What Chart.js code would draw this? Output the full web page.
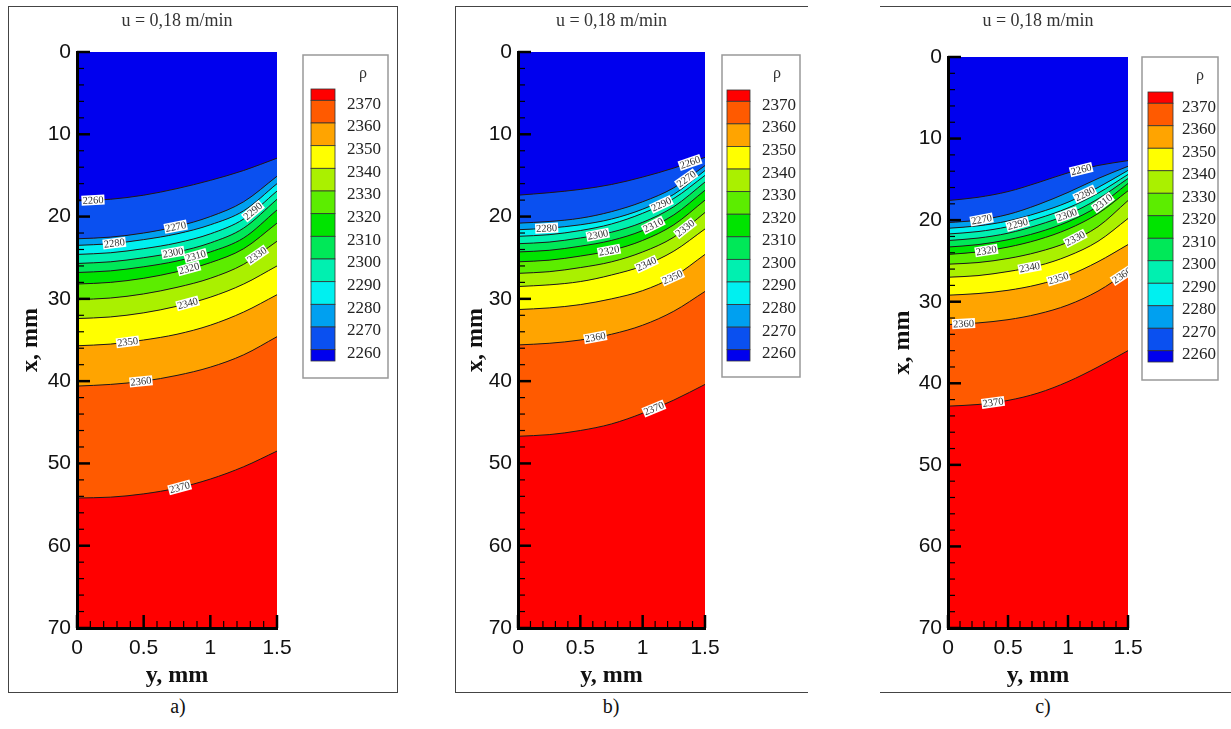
<!DOCTYPE html>
<html>
<head>
<meta charset="utf-8">
<script src="https://cdn.jsdelivr.net/npm/chart.js@4.4.1/dist/chart.umd.min.js"></script>
<style>
    body { margin: 0; background: #fff; width: 1231px; height: 729px; position: relative; overflow: hidden; font-family: "Liberation Serif", serif; }
    .frame { position: absolute; box-sizing: border-box; }
    #frameA { left: 8px; top: 6px; width: 390px; height: 687px; border: 1px solid #444; }
    #frameB { left: 455px; top: 6px; width: 353px; height: 687px; border: 1px solid #444; border-right: none; }
    #frameC { left: 880px; top: 6px; width: 351px; height: 687px; border-top: 1px solid #444; border-bottom: 1px solid #444; }
    canvas { position: absolute; }
    .cap { position: absolute; top: 695px; font-size: 20px; color: #111; transform: translateX(-50%); }
</style>
</head>
<body>
<div class="frame" id="frameA"></div>
<div class="frame" id="frameB"></div>
<div class="frame" id="frameC"></div>
<canvas id="chartA" width="388" height="686" style="left:9px;top:6px"></canvas>
<canvas id="chartB" width="352" height="686" style="left:456px;top:6px"></canvas>
<canvas id="chartC" width="350" height="686" style="left:881px;top:6px"></canvas>
<div class="cap" style="left:178px">a)</div>
<div class="cap" style="left:611px">b)</div>
<div class="cap" style="left:1043px">c)</div>

<script>
// positions across the layer (y, mm) where the contour depths were read
const yPos = [0, 0.25, 0.5, 0.75, 1, 1.25, 1.5];
const widthTicks = [0, 0.5, 1, 1.5];
const depthTicks = [0, 10, 20, 30, 40, 50, 60, 70];

// contour levels of density rho
const levels = [2260, 2270, 2280, 2290, 2300, 2310, 2320, 2330, 2340, 2350, 2360, 2370];
// colour of the band lying just above each level line (shallower side)
const bandColors = ['#0000ee', '#0a50f0', '#00a0f0', '#00f0f0', '#00f0b0', '#00e858',
                    '#00e400', '#5ced00', '#aaf000', '#ffff00', '#ffa400', '#ff5a00'];
const deepColor = '#ff0000';

// depth x (mm) of each contour at yPos, one row per level - case a)
const depthA = [
    [18.1, 17.9, 17.4, 16.6, 15.6, 14.4, 12.9],
    [22.7, 22.5, 22.0, 21.2, 20.0, 18.2, 15.1],
    [23.5, 23.3, 22.8, 22.1, 21.0, 19.3, 16.0],
    [24.6, 24.4, 23.9, 23.2, 22.1, 20.3, 16.9],
    [25.7, 25.5, 25.0, 24.3, 23.2, 21.4, 17.9],
    [26.8, 26.6, 26.1, 25.4, 24.3, 22.6, 19.2],
    [28.2, 28.0, 27.5, 26.7, 25.6, 23.9, 20.8],
    [30.1, 29.9, 29.4, 28.6, 27.5, 25.8, 23.0],
    [32.4, 32.2, 31.7, 30.9, 29.8, 28.2, 26.0],
    [35.7, 35.5, 35.0, 34.3, 33.2, 31.6, 29.5],
    [40.6, 40.4, 40.0, 39.3, 38.3, 36.8, 34.6],
    [54.2, 54.1, 53.7, 53.0, 51.9, 50.4, 48.5]
];
// case b)
const depthB = [
    [17.4, 17.1, 16.7, 16.1, 15.2, 14.1, 12.8],
    [20.8, 20.6, 20.2, 19.4, 18.2, 16.5, 13.8],
    [21.6, 21.4, 21.0, 20.3, 19.1, 17.3, 14.4],
    [22.4, 22.2, 21.7, 20.9, 19.6, 17.8, 15.0],
    [23.3, 23.1, 22.6, 21.9, 20.7, 18.8, 15.8],
    [24.3, 24.1, 23.6, 22.9, 21.7, 19.8, 16.8],
    [25.5, 25.3, 24.8, 24.1, 22.9, 21.0, 18.0],
    [26.9, 26.7, 26.2, 25.5, 24.3, 22.5, 19.5],
    [28.5, 28.3, 27.9, 27.1, 26.0, 24.2, 21.5],
    [31.3, 31.1, 30.7, 30.0, 29.0, 27.3, 24.6],
    [35.6, 35.4, 35.0, 34.3, 33.2, 31.5, 29.1],
    [46.7, 46.5, 46.0, 45.2, 43.9, 42.3, 40.4]
];
// case c)
const depthC = [
    [17.6, 17.2, 16.5, 15.4, 14.2, 13.3, 12.7],
    [20.3, 20.0, 19.3, 18.1, 16.6, 14.9, 13.4],
    [21.0, 20.7, 20.1, 19.1, 17.8, 16.0, 13.9],
    [21.7, 21.4, 20.8, 19.8, 18.5, 16.7, 14.4],
    [22.5, 22.2, 21.6, 20.6, 19.3, 17.4, 14.9],
    [23.3, 23.0, 22.4, 21.5, 20.2, 18.3, 15.5],
    [24.2, 23.9, 23.3, 22.4, 21.1, 19.2, 16.4],
    [25.4, 25.2, 24.7, 23.9, 22.7, 20.8, 17.6],
    [27.0, 26.8, 26.3, 25.6, 24.4, 22.6, 19.8],
    [29.2, 29.0, 28.6, 27.9, 26.8, 25.1, 23.0],
    [32.8, 32.6, 32.2, 31.5, 30.4, 28.7, 26.3],
    [42.8, 42.6, 42.1, 41.2, 39.8, 38.0, 36.0]
];

// inline contour labels: [level, y position in mm]
const marksA = [[2260, 0.12], [2270, 0.74], [2280, 0.28], [2290, 1.32], [2300, 0.72], [2310, 0.89],
                [2320, 0.84], [2330, 1.35], [2340, 0.83], [2350, 0.38], [2360, 0.48], [2370, 0.77]];
const marksB = [[2260, 1.38], [2270, 1.35], [2280, 0.23], [2290, 1.15], [2300, 0.64], [2310, 1.085],
                [2320, 0.73], [2330, 1.34], [2340, 1.03], [2350, 1.24], [2360, 0.62], [2370, 1.09]];
const marksC = [[2260, 1.11], [2270, 0.28], [2280, 1.14], [2290, 0.58], [2300, 0.99], [2310, 1.29],
                [2320, 0.32], [2330, 1.06], [2340, 0.68], [2350, 0.92], [2360, 1.45], [2360, 0.13], [2370, 0.375]];

const titleText = 'u = 0,18 m/min';

const panelDecor = {
    id: 'panelDecor',
    afterDraw(chart, args, o) {
        const { ctx, chartArea: a, scales: { x, y } } = chart;
        const g = o.g;
        ctx.save();

        // inward tick marks
        ctx.strokeStyle = '#000';
        for (let v = 0; v <= 70; v += 2) {
            const major = v % 10 === 0;
            const py = y.getPixelForValue(v);
            ctx.lineWidth = major ? 2.5 : 1.2;
            ctx.beginPath();
            ctx.moveTo(a.left, py);
            ctx.lineTo(a.left + (major ? 13 : 7), py);
            ctx.stroke();
        }
        for (let k = 0; k <= 15; k++) {
            const major = k % 5 === 0;
            const px = x.getPixelForValue(k / 10);
            ctx.lineWidth = major ? 2.5 : 1.2;
            ctx.beginPath();
            ctx.moveTo(px, a.bottom);
            ctx.lineTo(px, a.bottom - (major ? 13 : 7));
            ctx.stroke();
        }

        // contour labels
        ctx.save();
        ctx.beginPath();
        ctx.rect(a.left, a.top, a.right - a.left, a.bottom - a.top);
        ctx.clip();
        ctx.font = '10.5px "Liberation Serif"';
        o.marks.forEach(([lv, yv]) => {
            const row = o.depth[levels.indexOf(lv)];
            let j = 0;
            while (j < yPos.length - 2 && yv > yPos[j + 1]) j++;
            const t = (yv - yPos[j]) / (yPos[j + 1] - yPos[j]);
            const dv = row[j] + t * (row[j + 1] - row[j]);
            const ang = Math.atan2(
                y.getPixelForValue(row[j + 1]) - y.getPixelForValue(row[j]),
                x.getPixelForValue(yPos[j + 1]) - x.getPixelForValue(yPos[j]));
            const txt = String(lv);
            const w = ctx.measureText(txt).width + 2;
            ctx.save();
            ctx.translate(x.getPixelForValue(yv), y.getPixelForValue(dv));
            ctx.rotate(ang);
            ctx.fillStyle = '#fff';
            ctx.fillRect(-w / 2, -5, w, 10);
            ctx.fillStyle = '#333';
            ctx.textAlign = 'center';
            ctx.textBaseline = 'middle';
            ctx.fillText(txt, 0, 0.5);
            ctx.restore();
        });
        ctx.restore();

        // panel title
        ctx.fillStyle = '#333';
        ctx.font = '18px "Liberation Serif"';
        ctx.textAlign = 'center';
        ctx.textBaseline = 'middle';
        ctx.fillText(titleText, (a.left + a.right) / 2, 21 - g.oy);

        // legend box
        const L = g.legend;
        const bx = L.x - g.ox, by = L.y - g.oy;
        ctx.strokeStyle = '#999';
        ctx.lineWidth = 1.5;
        ctx.strokeRect(bx, by, L.w, L.h);
        ctx.fillStyle = '#333';
        ctx.font = '16px "Liberation Serif"';
        ctx.fillText('\u03c1', L.rhoX - g.ox, L.rhoY - g.oy);

        const top = L.barTop - g.oy, bot = L.barBottom - g.oy;
        const unit = (bot - top) / (levels.length);
        const left = L.barX - g.ox;
        const cols = [deepColor, ...bandColors.slice().reverse()];
        cols.forEach((c, k) => {
            let y0, y1;
            if (k === 0) { y0 = top; y1 = top + unit / 2; }
            else if (k === cols.length - 1) { y0 = bot - unit / 2; y1 = bot; }
            else { y0 = top + unit / 2 + (k - 1) * unit; y1 = y0 + unit; }
            ctx.fillStyle = c;
            ctx.fillRect(left, y0, L.barW, y1 - y0);
            ctx.strokeStyle = '#333';
            ctx.lineWidth = 0.8;
            ctx.strokeRect(left, y0, L.barW, y1 - y0);
        });
        ctx.fillStyle = '#222';
        ctx.font = '17px "Liberation Serif"';
        ctx.textAlign = 'left';
        levels.slice().reverse().forEach((lv, k) => {
            ctx.fillText(String(lv), L.textX - g.ox, top + unit / 2 + k * unit + 4);
        });

        ctx.restore();
    }
};

function makePanel(id, depth, marks, g) {
    const datasets = levels.map((lv, i) => ({
        label: String(lv),
        data: yPos.map((yv, j) => ({ x: yv, y: depth[i][j] })),
        borderColor: '#1a1a1a',
        borderWidth: 1,
        pointRadius: 0,
        cubicInterpolationMode: 'monotone',
        backgroundColor: bandColors[i],
        fill: i === 0 ? { value: 0 } : '-1'
    }));
    const tickFont = { family: '"Liberation Sans", Arial, sans-serif', size: 21 };
    const axisTitleFont = { family: '"Liberation Serif", serif', size: 24, weight: 'bold' };

    return new Chart(document.getElementById(id), {
        type: 'line',
        data: { datasets },
        options: {
            responsive: false,
            animation: false,
            layout: { padding: { left: 0, top: g.top, right: g.right, bottom: 0 } },
            plugins: {
                legend: { display: false },
                tooltip: { enabled: false },
                panelDecor: { depth, marks, g }
            },
            scales: {
                x: {
                    type: 'linear',
                    min: 0,
                    max: 1.5,
                    afterBuildTicks: s => { s.ticks = widthTicks.map(v => ({ value: v })); },
                    afterFit: s => { s.height = g.xh; },
                    grid: { display: false, drawTicks: false },
                    border: { display: true, color: '#000', width: 3, z: 1 },
                    ticks: { font: tickFont, color: '#111', padding: 8, maxRotation: 0, callback: v => String(v) },
                    title: { display: true, text: 'y, mm', font: axisTitleFont, color: '#111', padding: { top: 0, bottom: 2 } }
                },
                y: {
                    type: 'linear',
                    min: 0,
                    max: 70,
                    reverse: true,
                    afterBuildTicks: s => { s.ticks = depthTicks.map(v => ({ value: v })); },
                    afterFit: s => { s.width = g.yw; },
                    grid: { display: false, drawTicks: false },
                    border: { display: true, color: '#000', width: 3, z: 1 },
                    ticks: { font: tickFont, color: '#111', padding: 6, callback: v => String(v) },
                    title: { display: true, text: 'x, mm', font: axisTitleFont, color: '#111', padding: { top: g.tp, bottom: 0 } }
                }
            }
        },
        plugins: [
            {
                id: 'deepBand',
                beforeDatasetsDraw(chart) {
                    const { ctx, chartArea: a } = chart;
                    ctx.save();
                    ctx.fillStyle = deepColor;
                    ctx.fillRect(a.left, a.top, a.right - a.left, a.bottom - a.top);
                    ctx.restore();
                }
            },
            panelDecor
        ]
    });
}

makePanel('chartA', depthA, marksA, {
    ox: 9, oy: 6, top: 46, right: 120, xh: 64, yw: 68, tp: 7,
    legend: { x: 303, y: 55, w: 85, h: 323, barX: 311, barW: 24, barTop: 89, barBottom: 361, textX: 347, rhoX: 363, rhoY: 74 }
});
makePanel('chartB', depthB, marksB, {
    ox: 456, oy: 6, top: 46, right: 103, xh: 64, yw: 62, tp: 5,
    legend: { x: 722, y: 55, w: 78, h: 322, barX: 727, barW: 23, barTop: 90, barBottom: 361, textX: 762, rhoX: 777, rhoY: 74 }
});
makePanel('chartC', depthC, marksC, {
    ox: 881, oy: 6, top: 51, right: 103, xh: 64, yw: 67, tp: 7,
    legend: { x: 1142, y: 57, w: 76, h: 323, barX: 1148, barW: 25, barTop: 92, barBottom: 362, textX: 1182, rhoX: 1200, rhoY: 76 }
});
</script>
</body>
</html>
